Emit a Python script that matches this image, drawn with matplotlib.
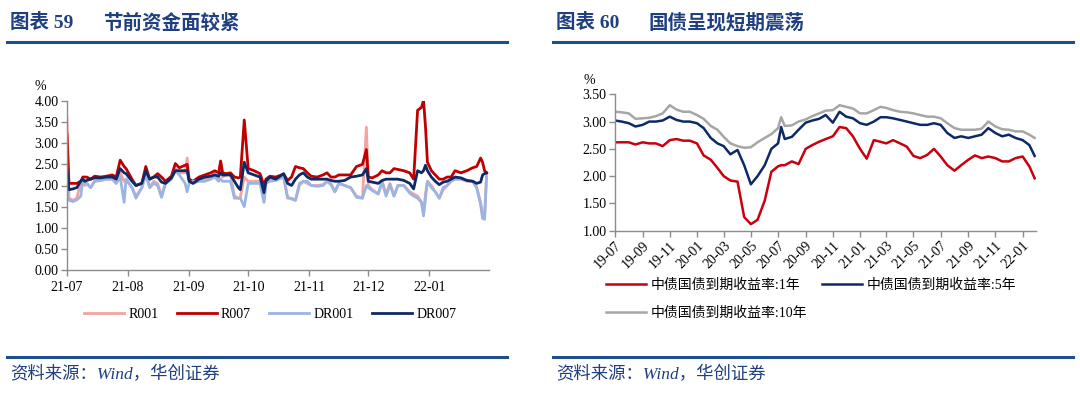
import matplotlib
matplotlib.use("Agg")
import matplotlib.pyplot as plt
import matplotlib.dates as mdates
from matplotlib.lines import Line2D
import pandas as pd

plt.rcParams['font.family'] = ['Liberation Serif', 'Noto Sans CJK SC']
plt.rcParams['axes.unicode_minus'] = False

BLUE_TXT = '#1F3F7F'
SPINE = '#8C8C8C'

# ---- left chart: money market rates, days since 2021-07-01 ----
LEFT_START = '2021-07-01'
DAYS = [0, 1, 3, 5, 7, 8, 9, 10, 12, 14,
        17, 20, 23, 25, 27, 29, 30, 33, 35, 38,
        40, 42, 44, 46, 48, 50, 53, 55, 57, 60,
        61, 62, 64, 67, 70, 73, 75, 77, 78, 79,
        81, 83, 85, 87, 88, 90, 92, 95, 98, 100,
        101, 103, 106, 110, 112, 114, 116, 118, 120, 122,
        124, 127, 130, 132, 134, 136, 138, 141, 144, 147,
        150, 152, 153, 155, 158, 160, 162, 164, 166, 168,
        171, 174, 176, 178, 180, 181, 182, 183, 185, 187,
        189, 191, 193, 195, 197, 200, 203, 206, 208, 210,
        211, 212, 213]
R001 = [3.6, 1.7, 1.65, 1.7, 2.1, 2.15, 2.0, 2.05, 1.95, 2.1,
        2.12, 2.15, 2.15, 2.05, 2.3, 2.1, 2.15, 1.95, 1.75, 1.95,
        2.3, 1.95, 2.1, 2.05, 1.75, 2.05, 2.15, 2.4, 2.3, 2.3,
        2.65, 2.1, 2.05, 2.1, 2.15, 2.2, 2.3, 2.15, 2.55, 2.2,
        2.25, 2.25, 1.75, 1.7, 1.72, 2.2, 2.1, 2.1, 2.1, 1.65,
        2.05, 2.15, 2.15, 2.2, 1.7, 1.7, 1.65, 2.0, 2.1, 2.05,
        2.0, 2.0, 2.02, 2.1, 2.05, 1.85, 2.05, 2.0, 1.95, 1.75,
        1.7, 3.38, 2.0, 1.9, 1.8, 2.1, 1.8, 2.05, 1.75, 2.0,
        2.0, 1.85, 1.8, 1.75, 1.6, 1.35, 1.8, 2.1, 2.0, 1.85,
        1.7, 1.9, 2.0, 2.1, 2.15, 2.15, 2.1, 2.1, 1.95, 1.6,
        1.3, 1.25, 2.25]
R007 = [3.2, 2.05, 2.05, 2.05, 2.1, 2.2, 2.2, 2.2, 2.15, 2.22,
        2.2, 2.22, 2.25, 2.2, 2.6, 2.45, 2.4, 2.15, 2.0, 2.05,
        2.45, 2.15, 2.2, 2.28, 2.2, 2.1, 2.22, 2.52, 2.42, 2.48,
        2.5, 2.15, 2.1, 2.2, 2.25, 2.3, 2.35, 2.3, 2.58, 2.3,
        2.28, 2.3, 2.2, 2.18, 2.2, 3.55, 2.4, 2.35, 2.28, 2.0,
        2.15, 2.22, 2.2, 2.27, 2.12, 2.2, 2.45, 2.42, 2.4, 2.3,
        2.22, 2.2, 2.25, 2.3, 2.2, 2.2, 2.25, 2.25, 2.25, 2.45,
        2.5, 2.85, 2.2, 2.18, 2.25, 2.35, 2.3, 2.3, 2.4, 2.38,
        2.35, 2.3, 2.15, 3.78, 3.85, 4.02, 3.4, 2.55, 2.35, 2.25,
        2.15, 2.15, 2.2, 2.2, 2.35, 2.3, 2.35, 2.42, 2.45, 2.65,
        2.55, 2.35, 2.3]
DR001 = [1.85, 1.65, 1.62, 1.66, 1.75, 2.15, 2.05, 2.05, 1.95, 2.1,
         2.12, 2.15, 2.15, 2.05, 2.2, 1.6, 2.15, 1.95, 1.7, 1.95,
         2.25, 1.95, 2.05, 2.0, 1.72, 2.05, 2.15, 2.35, 2.25, 2.05,
         1.85, 2.05, 2.1, 2.1, 2.1, 2.15, 2.2, 2.1, 2.15, 2.1,
         2.1, 2.1, 1.7, 1.7, 1.7, 1.5, 2.05, 2.05, 2.05, 1.6,
         2.05, 2.1, 2.12, 2.2, 1.72, 1.68, 1.65, 2.05, 2.1, 2.1,
         2.0, 1.98, 2.0, 2.1, 2.02, 1.85, 2.05, 2.0, 1.95, 1.72,
         1.7, 2.0, 1.95, 1.88, 1.8, 2.08, 1.75, 2.02, 1.75, 2.0,
         2.0, 1.82, 1.75, 1.7, 1.6, 1.28, 1.7, 2.1, 1.95, 1.85,
         1.7, 1.95, 2.0, 2.1, 2.15, 2.15, 2.12, 2.1, 1.95, 1.55,
         1.22, 1.2, 2.2]
DR007 = [2.35, 1.9, 1.92, 1.95, 2.1, 2.15, 2.1, 2.12, 2.15, 2.18,
         2.18, 2.2, 2.2, 2.15, 2.4, 2.3, 2.28, 2.1, 2.0, 2.05,
         2.35, 2.15, 2.2, 2.2, 2.08, 2.05, 2.18, 2.35, 2.35, 2.35,
         2.35, 2.1, 2.05, 2.15, 2.2, 2.22, 2.25, 2.22, 2.3, 2.25,
         2.25, 2.25, 2.1, 1.95, 1.9, 2.55, 2.3, 2.25, 2.2, 1.83,
         2.1, 2.2, 2.15, 2.28, 2.05, 2.0, 2.15, 2.25, 2.3, 2.2,
         2.15, 2.15, 2.15, 2.15, 2.12, 2.1, 2.1, 2.12, 2.2, 2.22,
         2.25, 2.4, 2.1, 2.08, 2.05, 2.12, 2.15, 2.15, 2.15, 2.15,
         2.12, 2.05, 1.92, 2.35, 2.3, 2.35, 2.48, 2.35, 2.2, 2.1,
         2.02, 2.08, 2.1, 2.15, 2.2, 2.18, 2.12, 2.1, 2.05, 2.08,
         2.25, 2.28, 2.3]

# ---- right chart: treasury yields ----
RIGHT_DATES = [
    '2019-07-01', '2019-07-16', '2019-08-01', '2019-08-16', '2019-09-01', '2019-09-16',
    '2019-10-01', '2019-10-16', '2019-11-01', '2019-11-16', '2019-12-01', '2019-12-16',
    '2020-01-01', '2020-01-16', '2020-02-01', '2020-02-16', '2020-03-01', '2020-03-16',
    '2020-04-01', '2020-04-16', '2020-05-01', '2020-05-16', '2020-06-01', '2020-06-16',
    '2020-07-01', '2020-07-08', '2020-07-16', '2020-08-01', '2020-08-16', '2020-09-01',
    '2020-09-16', '2020-10-01', '2020-10-16', '2020-11-01', '2020-11-16', '2020-12-01',
    '2020-12-16', '2021-01-01', '2021-01-16', '2021-02-01', '2021-02-16', '2021-03-01',
    '2021-03-16', '2021-04-01', '2021-04-16', '2021-05-01', '2021-05-16', '2021-06-01',
    '2021-06-16', '2021-07-01', '2021-07-16', '2021-08-01', '2021-08-16', '2021-09-01',
    '2021-09-16', '2021-10-01', '2021-10-16', '2021-11-01', '2021-11-16', '2021-12-01',
    '2021-12-16', '2022-01-01', '2022-01-16', '2022-01-28']
Y1 = [2.62, 2.62, 2.62, 2.58, 2.62, 2.6, 2.6, 2.55, 2.66, 2.68, 2.65, 2.65,
      2.6, 2.38, 2.3, 2.15, 2.0, 1.92, 1.9, 1.25, 1.12, 1.2, 1.55, 2.08,
      2.18, 2.2, 2.2, 2.27, 2.22, 2.5, 2.57, 2.63, 2.68, 2.73, 2.9, 2.88,
      2.73, 2.5, 2.32, 2.66, 2.63, 2.6, 2.66, 2.6, 2.54, 2.37, 2.33, 2.39,
      2.5, 2.36, 2.2, 2.1, 2.2, 2.3, 2.38, 2.33, 2.36, 2.33, 2.27, 2.27,
      2.33, 2.36, 2.18, 1.96]
Y5 = [3.02, 3.0, 2.97, 2.91, 2.94, 3.0, 3.0, 3.02, 3.09, 3.03, 3.0, 3.0,
      2.97, 2.88, 2.7, 2.6, 2.55, 2.4, 2.48, 2.2, 1.85, 2.0, 2.2, 2.5,
      2.6, 2.9, 2.68, 2.72, 2.85, 2.98, 3.02, 3.05, 3.12, 2.98, 3.18, 3.09,
      3.06, 2.97, 2.94, 3.0, 3.08, 3.08, 3.06, 3.03, 3.0, 2.97, 2.94, 2.94,
      2.97, 2.94, 2.79, 2.7, 2.73, 2.7, 2.73, 2.76, 2.88, 2.79, 2.73, 2.76,
      2.7, 2.66, 2.57, 2.37]
Y10 = [3.18, 3.17, 3.15, 3.05, 3.06, 3.07, 3.1, 3.15, 3.3, 3.22, 3.18, 3.18,
       3.12, 3.05, 2.92, 2.85, 2.72, 2.6, 2.55, 2.52, 2.53, 2.62, 2.7, 2.77,
       2.88, 3.08, 2.92, 2.93, 3.0, 3.04, 3.1, 3.15, 3.2, 3.21, 3.3, 3.27,
       3.24, 3.15, 3.15, 3.21, 3.27, 3.25, 3.21, 3.18, 3.17, 3.15, 3.12, 3.09,
       3.09, 3.06, 2.97, 2.88, 2.85, 2.85, 2.85, 2.87, 3.0, 2.91, 2.86, 2.85,
       2.82, 2.82, 2.76, 2.70]

LEFT_LABELS = ['R001', 'R007', 'DR001', 'DR007']
RIGHT_LABELS = ['中债国债到期收益率:1年', '中债国债到期收益率:5年', '中债国债到期收益率:10年']


def px(x, y):
    return x / 1080, 1 - y / 398


def style_axis(ax):
    for s in ['top', 'right']:
        ax.spines[s].set_visible(False)
    for s in ['left', 'bottom']:
        ax.spines[s].set_color(SPINE)
        ax.spines[s].set_linewidth(1.0)
    ax.tick_params(axis='both', direction='out', length=4, width=1.0,
                   color=SPINE, labelsize=10, pad=2)


fig = plt.figure(figsize=(10.8, 3.98), dpi=100)

# left panel
ax1 = fig.add_axes([67 / 1080, 1 - 270 / 398, 421.5 / 1080, 169 / 398])
ldates = pd.Timestamp(LEFT_START) + pd.to_timedelta(DAYS, unit='D')
ax1.plot(ldates, R001, color='#F4A3A0', lw=2.0, label=LEFT_LABELS[0])
ax1.plot(ldates, R007, color='#C00000', lw=2.0, label=LEFT_LABELS[1])
ax1.plot(ldates, DR001, color='#9BB5E3', lw=2.0, label=LEFT_LABELS[2])
ax1.plot(ldates, DR007, color='#0E2A66', lw=2.0, label=LEFT_LABELS[3])
ax1.set_ylim(0, 4)
ax1.set_yticks([i * 0.5 for i in range(9)])
ax1.yaxis.set_major_formatter(matplotlib.ticker.FormatStrFormatter('%.2f'))
ax1.set_xlim(pd.Timestamp(LEFT_START), pd.Timestamp(LEFT_START) + pd.Timedelta(days=214))
ax1.xaxis.set_major_locator(mdates.MonthLocator())
ax1.xaxis.set_major_formatter(mdates.DateFormatter('%y-%m'))
style_axis(ax1)
ax1.tick_params(axis='x', pad=4)
fig.text(*px(40, 86), '%', fontsize=10, ha='center', va='center')

h1, l1 = ax1.get_legend_handles_labels()
fig.legend(h1, l1, loc='center', bbox_to_anchor=px(270, 314), ncol=4, frameon=False,
           fontsize=10, handlelength=2.9, handletextpad=0.3, columnspacing=1.3)

# right panel
ax2 = fig.add_axes([615 / 1080, 1 - 230.7 / 398, 421 / 1080, 136.4 / 398])
rdates = pd.to_datetime(RIGHT_DATES)
l_1 = ax2.plot(rdates, Y1, color='#C8000F', lw=1.8, label=RIGHT_LABELS[0])[0]
l_10 = ax2.plot(rdates, Y10, color='#A6A6A6', lw=1.8, label=RIGHT_LABELS[2])[0]
l_5 = ax2.plot(rdates, Y5, color='#0E2A66', lw=1.8, label=RIGHT_LABELS[1])[0]
ax2.set_ylim(1.0, 3.5)
ax2.set_yticks([1.0, 1.5, 2.0, 2.5, 3.0, 3.5])
ax2.yaxis.set_major_formatter(matplotlib.ticker.FormatStrFormatter('%.2f'))
ax2.set_xlim(pd.Timestamp('2019-07-01'), pd.Timestamp('2022-01-31'))
ax2.xaxis.set_major_locator(mdates.MonthLocator(bymonth=[1, 3, 5, 7, 9, 11]))
ax2.xaxis.set_major_formatter(mdates.DateFormatter('%y-%m'))
style_axis(ax2)
for lab in ax2.get_xticklabels():
    lab.set_rotation(45)
    lab.set_ha('right')
    lab.set_rotation_mode('anchor')
fig.text(*px(589, 80), '%', fontsize=10, ha='center', va='center')

fig.legend([l_1, l_10, l_5], [RIGHT_LABELS[0], RIGHT_LABELS[2], RIGHT_LABELS[1]],
           loc='upper left', bbox_to_anchor=px(606, 279), ncol=2, frameon=False,
           fontsize=10, handlelength=2.9, handletextpad=0.35, columnspacing=1.0,
           labelspacing=1.0, borderpad=0, borderaxespad=0)

# titles, rules, sources
for x0, x1, num, title, tx in [(7, 507, '图表 59', '节前资金面较紧', 103),
                               (553, 1073, '图表 60', '国债呈现短期震荡', 648)]:
    fig.text(*px(x0 + 3, 23), num, fontsize=14, fontweight='bold', color=BLUE_TXT,
             ha='left', va='center')
    fig.text(*px(tx, 23), title, fontsize=14, fontweight='bold', color=BLUE_TXT,
             ha='left', va='center')
    fig.add_artist(Line2D([x0 / 1080, x1 / 1080], [1 - 42 / 398] * 2,
                          color='#1F4E8C', lw=2.2))
    fig.add_artist(Line2D([x0 / 1080, x1 / 1080], [1 - 357 / 398] * 2,
                          color='#1F4E8C', lw=2.2))
    fig.text(*px(x0 + 3, 375), '资料来源：Wind，华创证券', fontsize=12.5, style='italic',
             color=BLUE_TXT, ha='left', va='center')

fig.savefig('out.png', dpi=100)
